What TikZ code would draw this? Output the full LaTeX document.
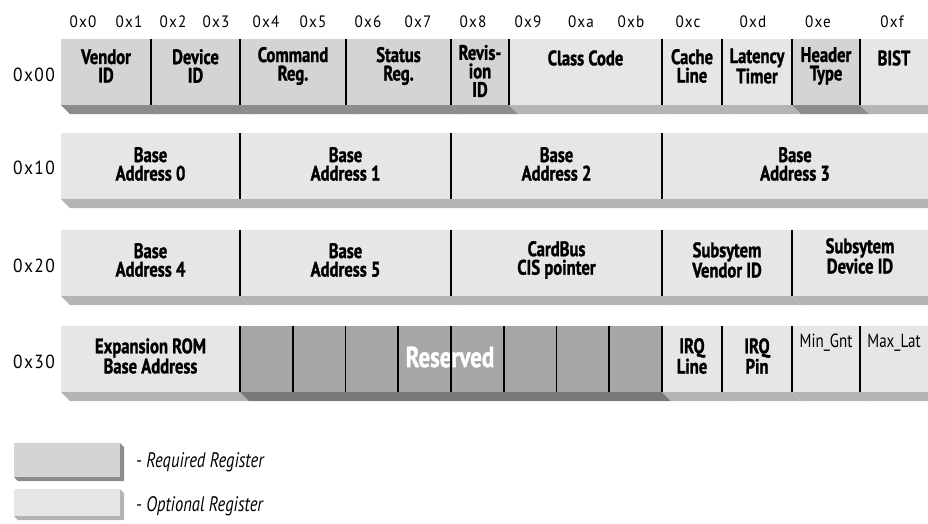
\documentclass[tikz,border=0pt]{standalone}
\usepackage{fontspec}
\setmainfont{PT Sans}
\newfontfamily\labf{PT Sans}[FakeStretch=0.79,BoldFont={PT Sans Bold},BoldFeatures={FakeBold=1.2}]
\newfontfamily\hexf{PT Sans}[FakeStretch=0.92,LetterSpace=7]
\definecolor{req}{HTML}{D4D4D4}
\definecolor{reqsh}{HTML}{8C8C8C}
\definecolor{opt}{HTML}{E6E6E6}
\definecolor{optsh}{HTML}{B4B4B4}
\definecolor{res}{HTML}{A6A6A6}
\definecolor{ressh}{HTML}{7A7A7A}
\newcommand\regcell[5]{%
  \fill[#5] (#1,#3+66) -- (#2,#3+66) -- (#2+9,#3+75) -- (#1+9,#3+75) -- cycle;
  \fill[#4] (#1,#3) rectangle (#2,#3+66);}
\tikzset{
  lbl/.style={font=\labf\bfseries\fontsize{21}{18.5}\selectfont, align=center, inner sep=0pt},
  hexlbl/.style={font=\hexf\fontsize{16.5}{18}\selectfont, inner sep=0pt},
  rowlbl/.style={font=\hexf\fontsize{19}{20}\selectfont, inner sep=0pt},
  smalllbl/.style={font=\labf\fontsize{19}{20}\selectfont, inner sep=0pt},
  leglbl/.style={font=\labf\itshape\fontsize{21}{24}\selectfont, anchor=west, inner sep=0pt},
  divider/.style={line width=1.6pt, black},
}
\begin{document}
\begin{tikzpicture}[x=1pt,y=-1pt]
\useasboundingbox (0,0) rectangle (928,523);
\begin{scope}
\clip (0,0) rectangle (928,523);
% row 0x00
\regcell{61}{151}{39}{req}{reqsh}
\regcell{151}{240}{39}{req}{reqsh}
\regcell{240}{346}{39}{req}{reqsh}
\regcell{346}{451}{39}{req}{reqsh}
\regcell{451}{509}{39}{req}{reqsh}
\regcell{509}{662}{39}{opt}{optsh}
\regcell{662}{722}{39}{opt}{optsh}
\regcell{722}{792}{39}{opt}{optsh}
\regcell{792}{860}{39}{req}{reqsh}
\regcell{860}{940}{39}{opt}{optsh}
% row 0x10
\regcell{61}{240}{133}{opt}{optsh}
\regcell{240}{451}{133}{opt}{optsh}
\regcell{451}{662}{133}{opt}{optsh}
\regcell{662}{940}{133}{opt}{optsh}
% row 0x20
\regcell{61}{240}{230}{opt}{optsh}
\regcell{240}{451}{230}{opt}{optsh}
\regcell{451}{662}{230}{opt}{optsh}
\regcell{662}{792}{230}{opt}{optsh}
\regcell{792}{940}{230}{opt}{optsh}
% row 0x30
\regcell{61}{240}{326}{opt}{optsh}
\regcell{240}{662}{326}{res}{ressh}
\regcell{662}{722}{326}{opt}{optsh}
\regcell{722}{792}{326}{opt}{optsh}
\regcell{792}{860}{326}{opt}{optsh}
\regcell{860}{940}{326}{opt}{optsh}
\end{scope}

% header offsets
\foreach \x/\t in {83/0x0,129/0x1,173/0x2,216/0x3,266/0x4,313/0x5,368/0x6,418/0x7,
  473/0x8,528/0x9,581/0xa,631/0xb,688/0xc,753/0xd,818/0xe,892/0xf}
  \node[hexlbl] (h\t) at (\x,22) {\t};

% row labels
\node[rowlbl] (r00) at (34,75) {0x00};
\node[rowlbl] (r10) at (34,168) {0x10};
\node[rowlbl] (r20) at (34,266) {0x20};
\node[rowlbl] (r30) at (34,362) {0x30};

% row 0x00 texts
\node[lbl] (vid) at (106,66) {Vendor\\ID};
\node[lbl] (did) at (195.5,66) {Device\\ID};
\node[lbl] (cmd) at (293,66) {Command\\Reg.};
\node[lbl] (sts) at (398.5,66) {Status\\Reg.};
\node[lbl] (rev) at (480,71) {Revis-\\ion\\ID};
\node[lbl] (cls) at (585.5,58) {Class Code};
\node[lbl] (cache) at (692,66) {Cache\\Line};
\node[lbl] (lat) at (757,66) {Latency\\Timer};
\node[lbl] (hdr) at (826,66) {Header\\Type};
\node[lbl] (bist) at (894,58) {BIST};

% row 0x10 texts
\node[lbl] (ba0) at (150.5,164) {Base\\Address 0};
\node[lbl] (ba1) at (345.5,164) {Base\\Address 1};
\node[lbl] (ba2) at (556.5,164) {Base\\Address 2};
\node[lbl] (ba3) at (795,164) {Base\\Address 3};

% row 0x20 texts
\node[lbl] (ba4) at (150.5,260) {Base\\Address 4};
\node[lbl] (ba5) at (345.5,260) {Base\\Address 5};
\node[lbl] (cis) at (556.5,260) {CardBus\\CIS pointer};
\node[lbl] (svid) at (727,260) {Subsytem\\Vendor ID};
\node[lbl] (sdid) at (860,256) {Subsytem\\Device ID};

% row 0x30 texts
\node[lbl] (rom) at (150.5,356) {Expansion ROM\\Base Address};
\node[lbl, text=white, font=\labf\bfseries\fontsize{29}{29}\selectfont] (resv) at (450,357) {Reserved};
\node[lbl] (irql) at (692,356) {IRQ\\Line};
\node[lbl] (irqp) at (757,356) {IRQ\\Pin};
\node[smalllbl] (mingnt) at (826,343) {Min\_Gnt};
\node[smalllbl] (maxlat) at (894,343) {Max\_Lat};

% dividers
\foreach \x in {151,240,346,451,509,662,722,792,860}
  \draw[divider] (\x,39) -- (\x,105);
\foreach \x in {240,451,662}
  \draw[divider] (\x,133) -- (\x,199);
\foreach \x in {240,451,662,792}
  \draw[divider] (\x,230) -- (\x,296);
\foreach \x in {240,292.75,345.5,398.25,451,503.75,556.5,609.25,662,722,792,860}
  \draw[divider] (\x,326) -- (\x,392);

% legend
\fill[reqsh] (120,443) -- (124,447) -- (124,481) -- (18,481) -- (14,477) -- (120,477) -- cycle;
\fill[req] (14,443) rectangle (120,477);
\node[leglbl] (lreq) at (136,462) {- Required Register};
\fill[optsh] (120,489) -- (124,493) -- (124,520) -- (18,520) -- (14,516) -- (120,516) -- cycle;
\fill[opt] (14,489) rectangle (120,516);
\node[leglbl] (lopt) at (136,506) {- Optional Register};
\end{tikzpicture}
\end{document}
